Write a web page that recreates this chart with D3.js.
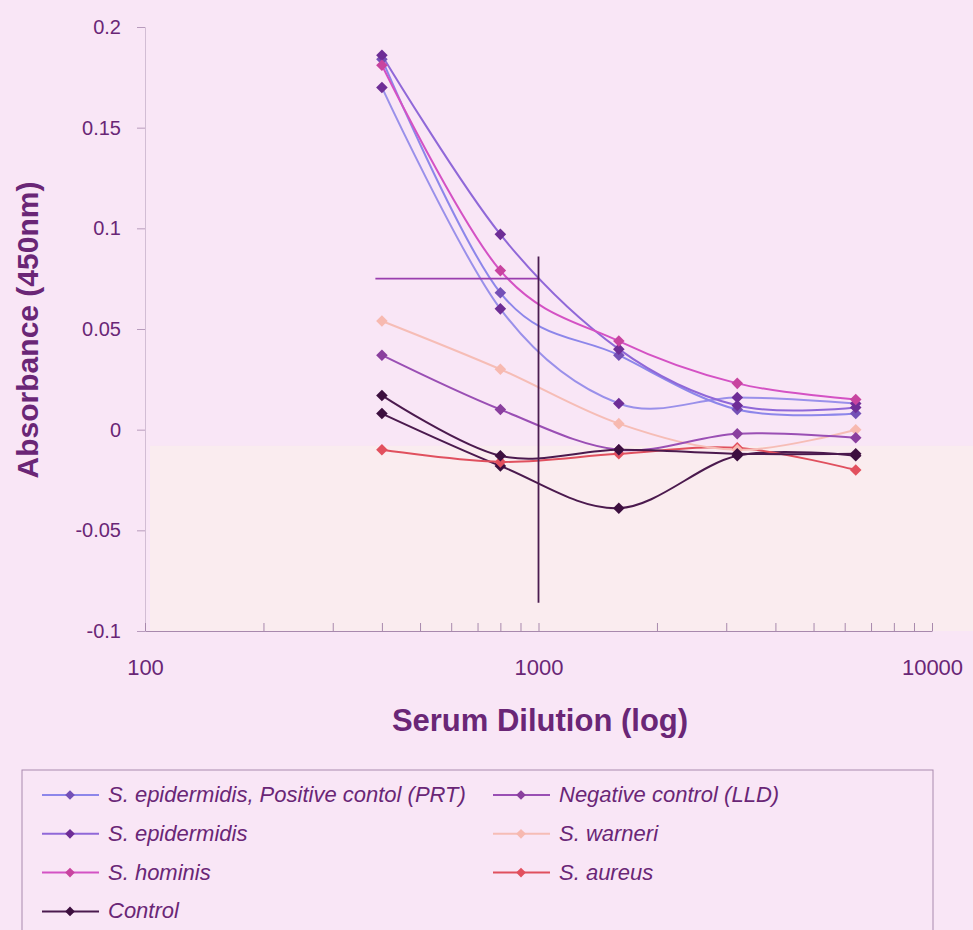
<!DOCTYPE html>
<html>
<head>
<meta charset="utf-8">
<script src="https://cdn.jsdelivr.net/npm/d3@7"></script>
<style>
  html, body { margin: 0; padding: 0; background: #f9e6f6; }
  svg { display: block; }
  text { font-family: "Liberation Sans", Arial, sans-serif; }
</style>
</head>
<body>
<svg id="chart" width="973" height="930"></svg>
<script>
// Serum dilutions (x, log scale)
const dilutions = [400, 800, 1600, 3200, 6400];

// Absorbance readings at 450 nm, one array per sample
const prt          = [0.184, 0.068, 0.037, 0.010, 0.008];
const epidermidis  = [0.186, 0.097, 0.040, 0.012, 0.011];
const epidermidis2 = [0.170, 0.060, 0.013, 0.016, 0.013];
const hominis      = [0.181, 0.079, 0.044, 0.023, 0.015];
const control      = [0.017, -0.013, -0.010, -0.012, -0.012];
const control2     = [0.008, -0.018, -0.039, -0.013, -0.013];
const negativeLLD  = [0.037, 0.010, -0.010, -0.002, -0.004];
const warneri      = [0.054, 0.030, 0.003, -0.010, 0.000];
const aureus       = [-0.010, -0.016, -0.012, -0.009, -0.020];

// Legend labels, in legend order (row-wise, two columns)
const legendLabels = [
  "S. epidermidis, Positive contol (PRT)",
  "Negative control (LLD)",
  "S. epidermidis",
  "S. warneri",
  "S. hominis",
  "S. aureus",
  "Control"
];

// Axis ticks
const yTicks = [-0.1, -0.05, 0, 0.05, 0.1, 0.15, 0.2];
const yTickLabels = ["-0.1", "-0.05", "0", "0.05", "0.1", "0.15", "0.2"];
const xMajorTicks = [100, 1000, 10000];

// Cut-off guide lines
const cutoffAbsorbance = 0.075;
const cutoffStartDilution = 385;
const cutoffDilution = 1000;
const cutoffSpan = [-0.086, 0.086];

const series = [
  { name: legendLabels[6], values: control2,     line: "#4b1a4e", marker: "#3d0f3f", legend: false },
  { name: legendLabels[5], values: aureus,       line: "#e0505e", marker: "#e2505e", legend: true },
  { name: legendLabels[3], values: warneri,      line: "#f6bdb6", marker: "#f7b9b0", legend: true },
  { name: legendLabels[1], values: negativeLLD,  line: "#9a4fb4", marker: "#8a3f9e", legend: true },
  { name: legendLabels[6], values: control,      line: "#4b1a4e", marker: "#3d0f3f", legend: true },
  { name: legendLabels[2], values: epidermidis2, line: "#9a90ea", marker: "#6e2d96", legend: false },
  { name: legendLabels[0], values: prt,          line: "#8d86ea", marker: "#7450b6", legend: true },
  { name: legendLabels[2], values: epidermidis,  line: "#9068d8", marker: "#6e2d96", legend: true },
  { name: legendLabels[4], values: hominis,      line: "#d452c4", marker: "#c8449f", legend: true }
];

const svg = d3.select("#chart");
const textColor = "#6a2676";
const font = "'Liberation Sans', Arial, sans-serif";

const plot = { left: 145, right: 932, top: 27, bottom: 631 };

const x = d3.scaleLog().domain([100, 10000]).range([plot.left, plot.right]);
const y = d3.scaleLinear().domain([-0.1, 0.2]).range([plot.bottom, plot.top]);

// Background and faint warm tint over the lower plot area
svg.append("rect").attr("width", 973).attr("height", 930).attr("fill", "#f9e6f6");
svg.append("rect")
  .attr("x", plot.left + 5).attr("y", y(-0.008))
  .attr("width", 973 - plot.left - 5).attr("height", plot.bottom - y(-0.008))
  .attr("fill", "#fbf1e8").attr("opacity", 0.5);

// Y axis
const yAxis = d3.axisLeft(y)
  .tickValues(yTicks)
  .tickFormat((d, i) => yTickLabels[i])
  .tickSize(8)
  .tickPadding(16);
const gy = svg.append("g").attr("transform", `translate(${plot.left},0)`).call(yAxis);
gy.select(".domain").attr("stroke", "#d2bdd4").attr("stroke-width", 1);
gy.selectAll(".tick line").attr("stroke", "#b89bbd");
gy.selectAll(".tick text").attr("fill", textColor).attr("font-size", 20).attr("font-family", font);

// X axis: minor ticks point up into the plot
const xMinor = [];
[100, 1000].forEach(dec => { for (let k = 2; k <= 9; k++) xMinor.push(dec * k); });
const xAxis = d3.axisBottom(x)
  .tickValues(xMajorTicks.concat(xMinor))
  .tickFormat(d => xMajorTicks.includes(d) ? String(d) : "")
  .tickSizeInner(-8)
  .tickSizeOuter(0)
  .tickPadding(28);
const gx = svg.append("g").attr("transform", `translate(0,${plot.bottom})`).call(xAxis);
gx.select(".domain").attr("stroke", "#a889ad").attr("stroke-width", 1.2);
gx.selectAll(".tick line").attr("stroke", "#a889ad");
gx.selectAll(".tick text").attr("fill", textColor).attr("font-size", 22).attr("font-family", font);

// Axis titles
svg.append("text")
  .attr("transform", `translate(38,330) rotate(-90)`)
  .attr("text-anchor", "middle")
  .attr("font-size", 30).attr("font-weight", "bold").attr("fill", textColor)
  .text("Absorbance (450nm)");
svg.append("text")
  .attr("x", 540).attr("y", 731)
  .attr("text-anchor", "middle")
  .attr("font-size", 31).attr("font-weight", "bold").attr("fill", textColor)
  .text("Serum Dilution (log)");

// Smoothed series lines
const line = d3.line()
  .x(d => x(d[0]))
  .y(d => y(d[1]))
  .curve(d3.curveCardinal.tension(0));

const diamond = d3.symbol().type(d3.symbolDiamond2).size(85);

const gSeries = svg.append("g");
series.forEach(s => {
  const pts = dilutions.map((dv, i) => [dv, s.values[i]]);
  gSeries.append("path")
    .attr("d", line(pts))
    .attr("fill", "none")
    .attr("stroke", s.line)
    .attr("stroke-width", 2);
});
series.forEach(s => {
  const pts = dilutions.map((dv, i) => [dv, s.values[i]]);
  gSeries.selectAll(null).data(pts).enter().append("path")
    .attr("d", diamond)
    .attr("transform", d => `translate(${x(d[0])},${y(d[1])})`)
    .attr("fill", s.marker);
});

// Cut-off guide lines
svg.append("line")
  .attr("x1", x(cutoffStartDilution)).attr("x2", x(cutoffDilution))
  .attr("y1", y(cutoffAbsorbance)).attr("y2", y(cutoffAbsorbance))
  .attr("stroke", "#9a3fae").attr("stroke-width", 1.8);
svg.append("line")
  .attr("x1", x(cutoffDilution)).attr("x2", x(cutoffDilution))
  .attr("y1", y(cutoffSpan[0])).attr("y2", y(cutoffSpan[1]))
  .attr("stroke", "#4a1c50").attr("stroke-width", 1.8);

// Legend
const legend = svg.append("g");
legend.append("rect")
  .attr("x", 22).attr("y", 770).attr("width", 911).attr("height", 190)
  .attr("fill", "none").attr("stroke", "#a98aae").attr("stroke-width", 1);

const legendDiamond = d3.symbol().type(d3.symbolDiamond2).size(60);
const legendEntries = series.filter(s => s.legend)
  .sort((a, b) => legendLabels.indexOf(a.name) - legendLabels.indexOf(b.name));
legendEntries.forEach(s => {
  const idx = legendLabels.indexOf(s.name);
  const col = idx % 2, row = Math.floor(idx / 2);
  const lx = col === 0 ? 42 : 493;
  const ly = 795 + row * 38.8;
  const g = legend.append("g").attr("transform", `translate(${lx},${ly})`);
  g.append("line").attr("x1", 0).attr("x2", 57).attr("y1", 0).attr("y2", 0)
    .attr("stroke", s.line).attr("stroke-width", 2);
  g.append("path").attr("d", legendDiamond).attr("transform", "translate(28,0)").attr("fill", s.marker);
  g.append("text").attr("x", 66).attr("y", 7)
    .attr("font-size", 22).attr("font-style", "italic").attr("fill", textColor)
    .text(s.name);
});
</script>
</body>
</html>
